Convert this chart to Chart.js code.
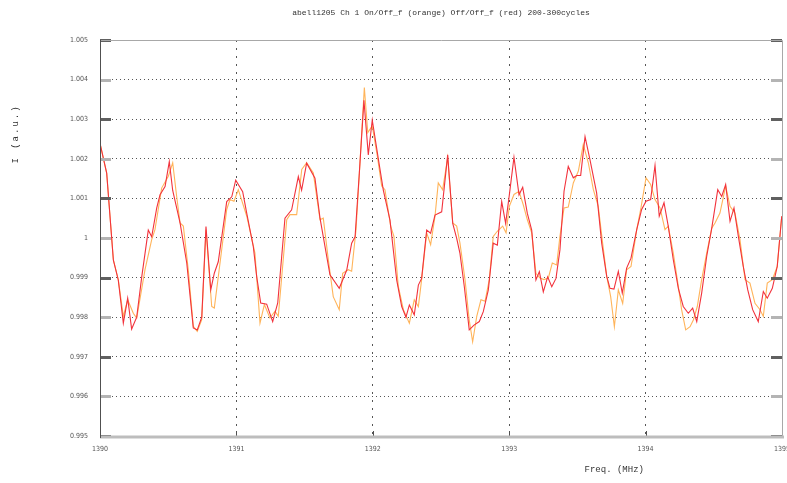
<!DOCTYPE html>
<html>
<head>
<meta charset="utf-8">
<script src="https://cdn.jsdelivr.net/npm/chart.js@4"></script>
<style>
  body { margin: 0; background: #fff; }
  #wrap { width: 787px; height: 483px; }
</style>
</head>
<body>
<div id="wrap"><canvas id="myChart" width="787" height="483"></canvas></div>
<script>
const titleText = 'abell1205 Ch 1 On/Off_f (orange) Off/Off_f (red) 200-300cycles';
const xTitle = 'Freq. (MHz)';
const yTitle = 'I (a.u.)';

const xTickValues = [1390, 1391, 1392, 1393, 1394, 1395];
const yTickValues = [0.995, 0.996, 0.997, 0.998, 0.999, 1, 1.001, 1.002, 1.003, 1.004, 1.005];
const yTickLabels = ['0.995', '0.996', '0.997', '0.998', '0.999', '1', '1.001', '1.002', '1.003', '1.004', '1.005'];

// Off/Off_f (red)
const redFreq = [
  1390.000, 1390.049, 1390.098, 1390.134, 1390.171, 1390.203, 1390.232, 1390.269, 1390.306, 1390.354,
  1390.379, 1390.416, 1390.440, 1390.477, 1390.508, 1390.533, 1390.587, 1390.636, 1390.684, 1390.713,
  1390.746, 1390.777, 1390.812, 1390.838, 1390.867, 1390.929, 1390.966, 1390.995, 1391.046, 1391.076,
  1391.124, 1391.149, 1391.178, 1391.222, 1391.266, 1391.303, 1391.356, 1391.405, 1391.454, 1391.478,
  1391.515, 1391.576, 1391.613, 1391.686, 1391.754, 1391.809, 1391.845, 1391.870, 1391.901, 1391.935,
  1391.967, 1391.996, 1392.040, 1392.077, 1392.126, 1392.175, 1392.212, 1392.243, 1392.268, 1392.304,
  1392.334, 1392.358, 1392.395, 1392.424, 1392.456, 1392.505, 1392.549, 1392.586, 1392.615, 1392.639,
  1392.671, 1392.707, 1392.742, 1392.781, 1392.810, 1392.847, 1392.883, 1392.913, 1392.945, 1392.974,
  1393.001, 1393.035, 1393.072, 1393.099, 1393.133, 1393.165, 1393.196, 1393.221, 1393.250, 1393.282,
  1393.312, 1393.343, 1393.372, 1393.402, 1393.433, 1393.470, 1393.495, 1393.524, 1393.556, 1393.592,
  1393.641, 1393.678, 1393.715, 1393.739, 1393.768, 1393.800, 1393.829, 1393.861, 1393.893, 1393.935,
  1393.971, 1394.003, 1394.037, 1394.069, 1394.100, 1394.135, 1394.166, 1394.203, 1394.240, 1394.276,
  1394.313, 1394.345, 1394.375, 1394.411, 1394.448, 1394.485, 1394.529, 1394.558, 1394.587, 1394.619,
  1394.648, 1394.680, 1394.716, 1394.749, 1394.785, 1394.826, 1394.863, 1394.892, 1394.929, 1394.965,
  1394.998
];
const redI = [
  1.00239, 1.00164, 0.99944, 0.99894, 0.99785, 0.99848, 0.99770, 0.99800, 0.99902, 1.00020,
  1.00003, 1.00076, 1.00109, 1.00130, 1.00193, 1.00120, 1.00038, 0.99937, 0.99773, 0.99768,
  0.99800, 1.00029, 0.99869, 0.99911, 0.99940, 1.00092, 1.00104, 1.00146, 1.00117, 1.00062,
  0.99978, 0.99902, 0.99836, 0.99833, 0.99789, 0.99836, 1.00050, 1.00071, 1.00155, 1.00121,
  1.00189, 1.00151, 1.00050, 0.99907, 0.99873, 0.99919, 0.99987, 1.00003, 1.00163, 1.00348,
  1.00210, 1.00298, 1.00201, 1.00121, 1.00045, 0.99894, 0.99827, 0.99800, 0.99831, 0.99806,
  0.99881, 0.99898, 1.00020, 1.00012, 1.00058, 1.00066, 1.00210, 1.00037, 0.99999, 0.99961,
  0.99877, 0.99768, 0.99780, 0.99789, 0.99814, 0.99869, 0.99987, 0.99982, 1.00092, 1.00037,
  1.00109, 1.00204, 1.00109, 1.00128, 1.00062, 1.00020, 0.99894, 0.99915, 0.99864, 0.99902,
  0.99877, 0.99898, 0.99970, 1.00118, 1.00181, 1.00152, 1.00158, 1.00158, 1.00256, 1.00198,
  1.00114, 0.99987, 0.99903, 0.99873, 0.99871, 0.99916, 0.99861, 0.99924, 0.99949, 1.00021,
  1.00072, 1.00093, 1.00097, 1.00183, 1.00055, 1.00089, 1.00030, 0.99945, 0.99873, 0.99827,
  0.99810, 0.99823, 0.99789, 0.99861, 0.99954, 1.00025, 1.00122, 1.00105, 1.00135, 1.00042,
  1.00076, 1.00004, 0.99928, 0.99869, 0.99819, 0.99789, 0.99865, 0.99848, 0.99873, 0.99928,
  1.00055
];

// On/Off_f (orange)
const orangeFreq = [
  1390.000, 1390.049, 1390.098, 1390.134, 1390.171, 1390.203, 1390.244, 1390.269, 1390.330, 1390.379,
  1390.403, 1390.452, 1390.501, 1390.533, 1390.562, 1390.587, 1390.611, 1390.647, 1390.684, 1390.713,
  1390.746, 1390.777, 1390.819, 1390.838, 1390.880, 1390.929, 1390.953, 1390.982, 1391.014, 1391.076,
  1391.136, 1391.173, 1391.205, 1391.246, 1391.283, 1391.307, 1391.369, 1391.393, 1391.442, 1391.479,
  1391.515, 1391.564, 1391.613, 1391.637, 1391.674, 1391.710, 1391.754, 1391.779, 1391.820, 1391.845,
  1391.877, 1391.906, 1391.938, 1391.963, 1391.996, 1392.033, 1392.065, 1392.089, 1392.131, 1392.155,
  1392.187, 1392.224, 1392.268, 1392.304, 1392.334, 1392.358, 1392.395, 1392.424, 1392.456, 1392.480,
  1392.512, 1392.549, 1392.586, 1392.615, 1392.639, 1392.676, 1392.707, 1392.732, 1392.762, 1392.793,
  1392.823, 1392.854, 1392.883, 1392.913, 1392.952, 1392.977, 1393.001, 1393.035, 1393.072, 1393.103,
  1393.133, 1393.165, 1393.196, 1393.226, 1393.255, 1393.287, 1393.316, 1393.348, 1393.372, 1393.402,
  1393.433, 1393.470, 1393.507, 1393.543, 1393.580, 1393.617, 1393.653, 1393.685, 1393.715, 1393.744,
  1393.771, 1393.800, 1393.832, 1393.861, 1393.893, 1393.935, 1393.966, 1394.003, 1394.037, 1394.069,
  1394.106, 1394.142, 1394.166, 1394.203, 1394.240, 1394.264, 1394.294, 1394.326, 1394.350, 1394.379,
  1394.411, 1394.448, 1394.485, 1394.509, 1394.545, 1394.587, 1394.619, 1394.655, 1394.692, 1394.729,
  1394.765, 1394.802, 1394.839, 1394.863, 1394.892, 1394.929, 1394.965, 1394.998
];
const orangeI = [
  1.00239, 1.00164, 0.99945, 0.99895, 0.99802, 0.99844, 0.99810, 0.99798, 0.99920, 0.99996,
  1.00021, 1.00126, 1.00156, 1.00190, 1.00105, 1.00038, 1.00030, 0.99920, 0.99777, 0.99764,
  0.99794, 1.00021, 0.99827, 0.99823, 0.99937, 1.00072, 1.00097, 1.00093, 1.00122, 1.00055,
  0.99962, 0.99785, 0.99832, 0.99798, 0.99815, 0.99802, 1.00046, 1.00059, 1.00059, 1.00173,
  1.00190, 1.00164, 1.00046, 1.00050, 0.99945, 0.99852, 0.99819, 0.99911, 0.99920, 0.99916,
  1.00021, 1.00190, 1.00380, 1.00266, 1.00283, 1.00207, 1.00131, 1.00122, 1.00030, 1.00004,
  0.99878, 0.99819, 0.99785, 0.99844, 0.99827, 0.99895, 1.00013, 0.99983, 1.00055, 1.00139,
  1.00122, 1.00203, 1.00038, 1.00030, 0.99987, 0.99895, 0.99793, 0.99738, 0.99802, 0.99844,
  0.99840, 0.99895, 1.00004, 1.00017, 1.00030, 1.00013, 1.00080, 1.00110, 1.00118, 1.00084,
  1.00046, 1.00013, 0.99911, 0.99899, 0.99895, 0.99899, 0.99937, 0.99932, 1.00004, 1.00076,
  1.00078, 1.00139, 1.00169, 1.00236, 1.00190, 1.00122, 1.00080, 0.99987, 0.99903, 0.99852,
  0.99776, 0.99869, 0.99835, 0.99920, 0.99928, 1.00021, 1.00076, 1.00152, 1.00135, 1.00097,
  1.00076, 1.00021, 1.00030, 0.99962, 0.99878, 0.99819, 0.99768, 0.99776, 0.99793, 0.99827,
  0.99895, 0.99962, 1.00025, 1.00038, 1.00063, 1.00131, 1.00080, 1.00063, 0.99996, 0.99895,
  0.99886, 0.99835, 0.99819, 0.99802, 0.99886, 0.99895, 0.99928, 1.00055
];

const redPts = redFreq.map((f, i) => ({x: f, y: redI[i]}));
const orangePts = orangeFreq.map((f, i) => ({x: f, y: orangeI[i]}));

// frame, inner tick marks and the text around the plot
const framePlugin = {
  id: 'frame',
  afterDraw(chart) {
    const {ctx, chartArea: a, scales: {x, y}} = chart;
    ctx.save();
    // inner ticks on left and right
    yTickValues.forEach((v, i) => {
      const py = Math.round(y.getPixelForValue(v));
      ctx.fillStyle = i % 2 ? '#b4b4b4' : '#606060';
      ctx.fillRect(a.left, py - 1, 11, 3);
      ctx.fillRect(a.right - 11, py - 1, 11, 3);
    });
    // inner ticks on bottom
    ctx.strokeStyle = '#505050';
    ctx.lineWidth = 1;
    xTickValues.forEach(v => {
      const px = Math.round(x.getPixelForValue(v)) + 0.5;
      ctx.beginPath();
      ctx.moveTo(px, a.bottom);
      ctx.lineTo(px, a.bottom - 5);
      ctx.stroke();
    });
    // border
    ctx.strokeStyle = '#a8a8a8';
    ctx.lineWidth = 1;
    ctx.beginPath();
    ctx.moveTo(a.left, a.top + 0.5);
    ctx.lineTo(a.right + 0.5, a.top + 0.5);
    ctx.lineTo(a.right + 0.5, a.bottom);
    ctx.stroke();
    ctx.strokeStyle = '#bdbdbd';
    ctx.lineWidth = 3;
    ctx.beginPath();
    ctx.moveTo(a.left, a.bottom + 1);
    ctx.lineTo(a.right + 2, a.bottom + 1);
    ctx.stroke();
    ctx.strokeStyle = '#505050';
    ctx.lineWidth = 1;
    ctx.beginPath();
    ctx.moveTo(a.left + 0.5, a.top);
    ctx.lineTo(a.left + 0.5, a.bottom + 2);
    ctx.stroke();

    // texts
    ctx.fillStyle = '#333';
    ctx.textAlign = 'center';
    ctx.textBaseline = 'middle';
    ctx.font = '8px "Liberation Mono", monospace';
    ctx.fillText(titleText, (a.left + a.right) / 2, 13);
    ctx.font = '9px "Liberation Mono", monospace';
    ctx.fillText(xTitle, x.getPixelForValue(1393.77), 470);
    ctx.translate(16, 134);
    ctx.rotate(-Math.PI / 2);
    ctx.letterSpacing = '2px';
    ctx.fillText(yTitle, 0, 0);
    ctx.restore();
  }
};

const ctx = document.getElementById('myChart').getContext('2d');
const myChart = new Chart(ctx, {
  type: 'line',
  data: {
    datasets: [
      {
        label: 'Off/Off_f (red)',
        data: redPts,
        borderColor: 'rgb(242, 50, 60)',
        borderWidth: 1.1,
        pointRadius: 0,
        tension: 0,
        fill: false,
        order: 0
      },
      {
        label: 'On/Off_f (orange)',
        data: orangePts,
        borderColor: 'rgb(255, 180, 90)',
        borderWidth: 1.1,
        pointRadius: 0,
        tension: 0,
        fill: false,
        order: 1
      }
    ]
  },
  options: {
    responsive: false,
    animation: false,
    layout: { padding: { top: 40, right: 5, left: 0, bottom: 0 } },
    plugins: {
      legend: { display: false },
      title: { display: false },
      tooltip: { enabled: false }
    },
    scales: {
      x: {
        type: 'linear',
        min: 1390,
        max: 1395,
        afterBuildTicks: s => { s.ticks = xTickValues.map(v => ({value: v})); },
        afterFit: s => { s.height = 47; s.paddingLeft = 0; s.paddingRight = 0; },
        ticks: {
          padding: 9,
          color: '#555',
          maxRotation: 0,
          font: { family: 'DejaVu Sans Condensed', size: 7 },
          callback: v => String(v)
        },
        grid: {
          drawTicks: false,
          lineWidth: 1,
          color: c => (c.tick && (c.tick.value === 1390 || c.tick.value === 1395)) ? 'rgba(0,0,0,0)' : '#555'
        },
        border: { display: false, dash: [2, 6] }
      },
      y: {
        min: 0.995,
        max: 1.005,
        afterBuildTicks: s => { s.ticks = yTickValues.map(v => ({value: v})); },
        afterFit: s => { s.width = 100; },
        ticks: {
          padding: 12,
          color: '#555',
          font: { family: 'DejaVu Sans Condensed', size: 7 },
          callback: (v, i) => yTickLabels[i]
        },
        grid: {
          drawTicks: false,
          lineWidth: 1,
          color: c => (c.tick && (c.index === 0 || c.index === yTickValues.length - 1)) ? 'rgba(0,0,0,0)' : '#555'
        },
        border: { display: false, dash: [1, 3] }
      }
    }
  },
  plugins: [framePlugin]
});
</script>
</body>
</html>
